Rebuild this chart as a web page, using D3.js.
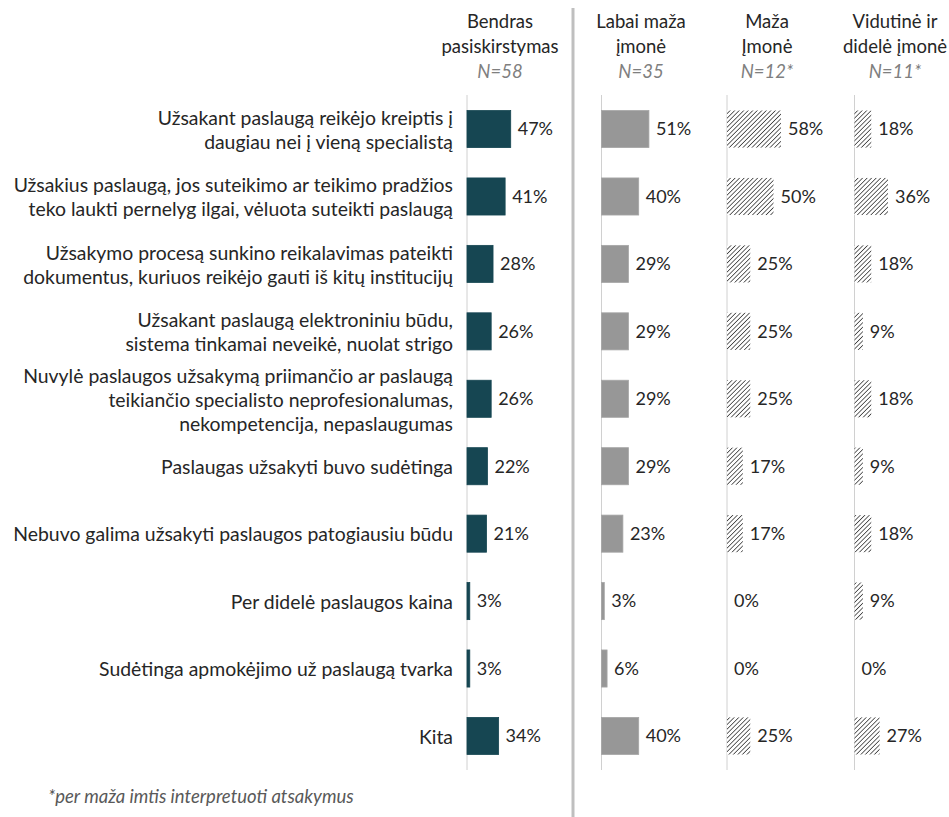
<!DOCTYPE html>
<html lang="lt">
<head>
<meta charset="UTF-8">
<title>Problemos užsakant paslaugą</title>
<script src="https://d3js.org/d3.v7.min.js"></script>
<style>
  body { margin: 0; background: #fff; }
  svg text { font-family: "Lato", "Open Sans", sans-serif; }
</style>
</head>
<body>
<div id="chart"></div>
<script>
// categories (line breaks as in the original)
const categories = [
  "Užsakant paslaugą reikėjo kreiptis į\ndaugiau nei į vieną specialistą",
  "Užsakius paslaugą, jos suteikimo ar teikimo pradžios\nteko laukti pernelyg ilgai, vėluota suteikti paslaugą",
  "Užsakymo procesą sunkino reikalavimas pateikti\ndokumentus, kuriuos reikėjo gauti iš kitų institucijų",
  "Užsakant paslaugą elektroniniu būdu,\nsistema tinkamai neveikė, nuolat strigo",
  "Nuvylė paslaugos užsakymą priimančio ar paslaugą\nteikiančio specialisto neprofesionalumas,\nnekompetencija, nepaslaugumas",
  "Paslaugas užsakyti buvo sudėtinga",
  "Nebuvo galima užsakyti paslaugos patogiausiu būdu",
  "Per didelė paslaugos kaina",
  "Sudėtinga apmokėjimo už paslaugą tvarka",
  "Kita"
];

const groupTitles = [
  ["Bendras", "pasiskirstymas"],
  ["Labai maža", "įmonė"],
  ["Maža", "Įmonė"],
  ["Vidutinė ir", "didelė įmonė"]
];
const groupN = ["N=58", "N=35", "N=12*", "N=11*"];

const bendras   = [47, 41, 28, 26, 26, 22, 21, 3, 3, 34];
const labaiMaza = [51, 40, 29, 29, 29, 29, 23, 3, 6, 40];
const maza      = [58, 50, 25, 25, 25, 17, 17, 0, 0, 25];
const vidutine  = [18, 36, 18, 9, 18, 9, 18, 9, 0, 27];

const footnote = "*per maža imtis interpretuoti atsakymus";

const W = 949, H = 817;
const svg = d3.select("#chart").append("svg")
  .attr("width", W).attr("height", H);

// hatch pattern for small samples
const defs = svg.append("defs");
const pat = defs.append("pattern")
  .attr("id", "hatch")
  .attr("patternUnits", "userSpaceOnUse")
  .attr("width", 3.2).attr("height", 3.2)
  .attr("patternTransform", "rotate(45)");
pat.append("rect").attr("width", 3.2).attr("height", 3.2).attr("fill", "#fff");
pat.append("line")
  .attr("x1", 0).attr("y1", 0).attr("x2", 0).attr("y2", 3.2)
  .attr("stroke", "#262626").attr("stroke-width", 1.4);

const y = d3.scaleBand()
  .domain(d3.range(categories.length))
  .range([95, 770])
  .paddingInner(0.45)
  .paddingOuter(0.23);

const x = d3.scaleLinear().domain([0, 100]).range([0, 93]);

const groups = [
  { values: bendras,   x0: 467,   center: 500, fill: "#164652", stroke: "#164652" },
  { values: labaiMaza, x0: 601.5, center: 641, fill: "#979797", stroke: "#a6a6a6" },
  { values: maza,      x0: 727,   center: 767, fill: "url(#hatch)", stroke: "none" },
  { values: vidutine,  x0: 854.5, center: 895, fill: "url(#hatch)", stroke: "none" }
];

// category labels
const lab = svg.append("g").attr("class", "labels");
categories.forEach((c, i) => {
  const lines = c.split("\n");
  const cy = y(i) + y.bandwidth() / 2 + 1;
  const t = lab.append("text")
    .attr("x", 453)
    .attr("text-anchor", "end")
    .attr("font-size", 19.4)
    .attr("fill", "#262626");
  lines.forEach((ln, k) => {
    t.append("tspan")
      .attr("x", 453)
      .attr("y", cy + (k - (lines.length - 1) / 2) * 24)
      .attr("dy", "0.35em")
      .text(ln);
  });
});

// divider
svg.append("line")
  .attr("x1", 573).attr("x2", 573)
  .attr("y1", 8).attr("y2", H)
  .attr("stroke", "#bfbfbf").attr("stroke-width", 3);

groups.forEach((g, gi) => {
  const gg = svg.append("g").attr("transform", `translate(${g.x0},0)`);

  // header
  groupTitles[gi].forEach((ln, k) => {
    svg.append("text")
      .attr("x", g.center).attr("y", 22 + k * 25)
      .attr("dy", "0.35em")
      .attr("text-anchor", "middle")
      .attr("font-size", 18.5)
      .attr("fill", "#262626")
      .text(ln);
  });
  svg.append("text")
    .attr("x", g.center).attr("y", 72)
    .attr("dy", "0.35em")
    .attr("text-anchor", "middle")
    .attr("font-size", 18.5)
    .attr("font-style", "italic")
    .attr("fill", "#7f7f7f")
    .text(groupN[gi]);

  // baseline
  gg.append("line")
    .attr("x1", 0).attr("x2", 0)
    .attr("y1", 95).attr("y2", 770)
    .attr("stroke", "#d0d0d0").attr("stroke-width", 1);

  gg.selectAll("rect.bar")
    .data(g.values)
    .join("rect")
    .attr("class", "bar")
    .attr("x", 0)
    .attr("y", (d, i) => y(i))
    .attr("width", d => x(d))
    .attr("height", y.bandwidth())
    .attr("fill", g.fill)
    .attr("stroke", d => d > 0 ? g.stroke : "none")
    .attr("stroke-width", 0.8);

  gg.selectAll("text.val")
    .data(g.values)
    .join("text")
    .attr("class", "val")
    .attr("x", d => x(d) + 7)
    .attr("y", (d, i) => y(i) + y.bandwidth() / 2)
    .attr("dy", "0.35em")
    .attr("font-size", 18)
    .attr("fill", "#262626")
    .text(d => d + "%");
});

svg.append("text")
  .attr("x", 48).attr("y", 797)
  .attr("dy", "0.35em")
  .attr("font-size", 18.5)
  .attr("font-style", "italic")
  .attr("fill", "#595959")
  .text(footnote);
</script>
</body>
</html>
